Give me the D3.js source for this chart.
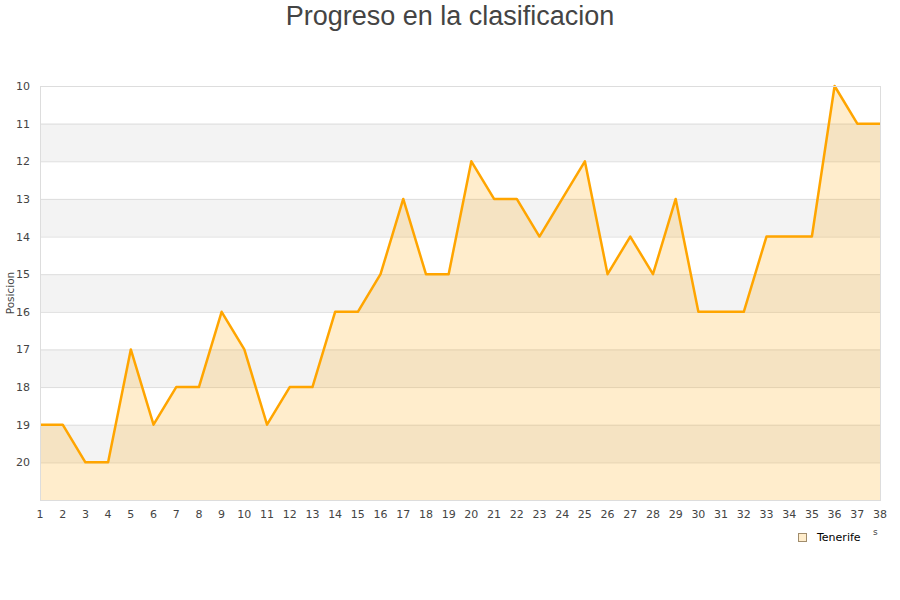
<!DOCTYPE html>
<html><head><meta charset="utf-8">
<script src="https://cdn.jsdelivr.net/npm/d3@7"></script>
<style>body{margin:0;background:#fff}svg{display:block;font-family:"DejaVu Sans",sans-serif}</style>
</head><body><svg id="c" width="900" height="600"></svg>
<script>
const jornadas = d3.range(1, 39);
const posiciones = [19,19,20,20,17,19,18,18,16,17,19,18,18,16,16,15,13,15,15,12,13,13,14,13,12,15,14,15,13,16,16,16,14,14,14,10,11,11];
const yTicks = [10,11,12,13,14,15,16,17,18,19,20];
const serie = "Tenerife";
const titulo = "Progreso en la clasificacion";

const svg = d3.select("#c");
const m = {l:40, r:880, t:86, b:500};
const x = d3.scaleLinear().domain([1,38]).range([m.l, m.r]);
const y = d3.scaleLinear().domain([10,21]).range([m.t, m.b]);

// bands
for (let v = 10; v < 21; v++) {
  svg.append("rect").attr("x", m.l).attr("y", y(v)).attr("width", m.r-m.l).attr("height", y(v+1)-y(v))
    .attr("fill", (v % 2 === 1) ? "#f3f3f3" : "#ffffff");
}
// grid
svg.append("g").selectAll("line").data(d3.range(10,22)).join("line")
  .attr("x1", m.l).attr("x2", m.r).attr("y1", d=>y(d)+0.5).attr("y2", d=>y(d)+0.5)
  .attr("stroke", "#dddddd");

const data = jornadas.map((j,i)=>({j, p: posiciones[i]}));
svg.append("path").datum(data)
  .attr("d", d3.area().x(d=>x(d.j)).y0(y(21)).y1(d=>y(d.p)))
  .attr("fill", "rgba(255,165,0,0.2)");
svg.append("path").datum(data)
  .attr("d", d3.line().x(d=>x(d.j)).y(d=>y(d.p)))
  .attr("fill", "none").attr("stroke", "#ffa500").attr("stroke-width", 2.5).attr("stroke-linejoin","round");

// frame
svg.append("rect").attr("x", m.l+0.5).attr("y", m.t+0.5).attr("width", m.r-m.l).attr("height", m.b-m.t)
  .attr("fill","none").attr("stroke","#dddddd");

// y labels
svg.append("g").selectAll("text").data(yTicks).join("text")
  .attr("x", 30).attr("y", d=>y(d)+4).attr("text-anchor","end")
  .attr("font-size", 11).attr("fill", "#444").text(d=>d);
// x labels
svg.append("g").selectAll("text").data(jornadas).join("text")
  .attr("x", d=>x(d)).attr("y", 518).attr("text-anchor","middle")
  .attr("font-size", 11).attr("fill", "#444").text(d=>d);

svg.append("text").attr("transform","translate(14,293) rotate(-90)").attr("text-anchor","middle")
  .attr("font-size", 10.5).attr("fill","#444").text("Posicion");

svg.append("text").attr("x", 450).attr("y", 25).attr("text-anchor","middle")
  .attr("font-family","'Liberation Sans',Arial,sans-serif").attr("font-size", 27).attr("fill","#444").text(titulo);

// legend
svg.append("rect").attr("x", 798.5).attr("y", 533.5).attr("width", 8).attr("height", 8)
  .attr("fill", "#ffedcc").attr("stroke", "#a08c6c");
svg.append("text").attr("x", 817).attr("y", 541).attr("font-size", 11).attr("fill","#000").text(serie);
svg.append("text").attr("x", 873).attr("y", 535).attr("font-size", 9).attr("fill","#444").text("s");
</script></body></html>
